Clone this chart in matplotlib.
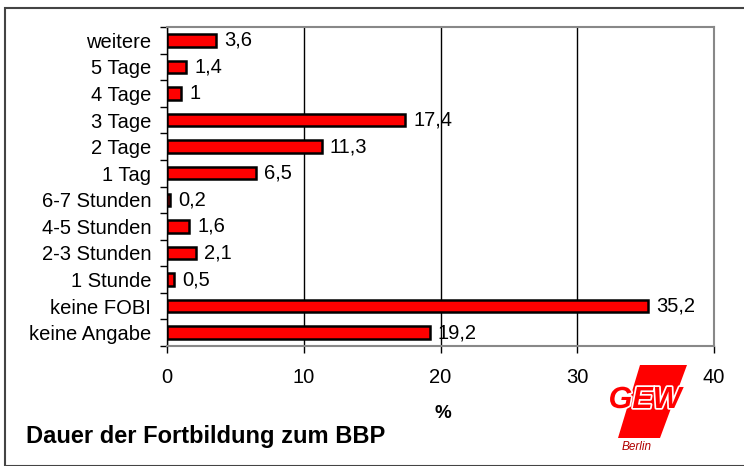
import matplotlib
matplotlib.use("Agg")
import matplotlib.pyplot as plt
import numpy as np
from matplotlib.patches import Polygon, Rectangle
import matplotlib.patheffects as pe

categories = ["keine Angabe", "keine FOBI", "1 Stunde", "2-3 Stunden", "4-5 Stunden",
              "6-7 Stunden", "1 Tag", "2 Tage", "3 Tage", "4 Tage", "5 Tage", "weitere"]
values = [19.2, 35.2, 0.5, 2.1, 1.6, 0.2, 6.5, 11.3, 17.4, 1.0, 1.4, 3.6]
value_labels = ["19,2", "35,2", "0,5", "2,1", "1,6", "0,2", "6,5", "11,3", "17,4", "1", "1,4", "3,6"]
xticks = [0, 10, 20, 30, 40]

plt.rcParams['font.family'] = ['Liberation Sans', 'DejaVu Sans']

W, H = 744, 466
fig = plt.figure(figsize=(W/100, H/100), dpi=100)

# outer frame
fig.patches.append(Rectangle((5/W, 0), 1.0, 1 - 8/H, transform=fig.transFigure,
                             fill=False, edgecolor='#444444', linewidth=1.5))

ax = fig.add_axes([167/W, 1 - 346/H, (714-167)/W, (346-27)/H])
y = np.arange(len(categories))
ax.barh(y, values, height=0.47, color='#ff0000', edgecolor='black', linewidth=1.8, zorder=3)
ax.set_xlim(0, 40)
ax.set_ylim(-0.5, len(categories) - 0.5)
ax.set_xticks(xticks)
ax.set_xticklabels([str(t) for t in xticks], fontsize=14.5)
ax.set_yticks(y)
ax.set_yticklabels(categories, fontsize=14.5)
ax.set_yticks(np.arange(-0.5, len(categories), 1.0), minor=True)
ax.tick_params(axis='y', which='major', length=0, pad=11.5)
ax.tick_params(axis='y', which='minor', length=5, width=1, color='black', direction='out')
ax.tick_params(axis='x', which='major', length=5, width=1, color='black', pad=11)
ax.xaxis.grid(True, color='black', linewidth=1, zorder=0)
ax.set_axisbelow(True)
for s in ['top', 'right', 'bottom']:
    ax.spines[s].set_color('#888888')
    ax.spines[s].set_linewidth(1.5)
ax.spines['left'].set_color('black')
ax.spines['left'].set_linewidth(1)

for yi, v, lab in zip(y, values, value_labels):
    ax.annotate(lab, (v, yi), xytext=(6, 0), textcoords='offset points',
                va='center', ha='left', fontsize=14.5)

fig.text(443/W, 1 - 413/H, "%", fontsize=13.5, fontweight='bold', ha='center', va='center')
fig.text(26/W, 1 - 437/H, "Dauer der Fortbildung zum BBP", fontsize=17,
         fontweight='bold', ha='left', va='center')

# GEW logo
pts = [(640, 365), (687, 365), (660, 438), (618, 438)]
fig.patches.append(Polygon([(px/W, 1 - py/H) for px, py in pts], closed=True,
                           transform=fig.transFigure, facecolor='#ff0000', edgecolor='none'))
fig.text(645/W, 1 - 400/H, "GEW", fontsize=22, fontweight='bold', color='#ff0000',
         ha='center', va='center', style='italic',
         path_effects=[pe.withStroke(linewidth=2.5, foreground='white')])
fig.text(637/W, 1 - 447/H, "Berlin", fontsize=8.5, style='italic', color='#b00000',
         ha='center', va='center')

fig.savefig("out.png", dpi=100)
